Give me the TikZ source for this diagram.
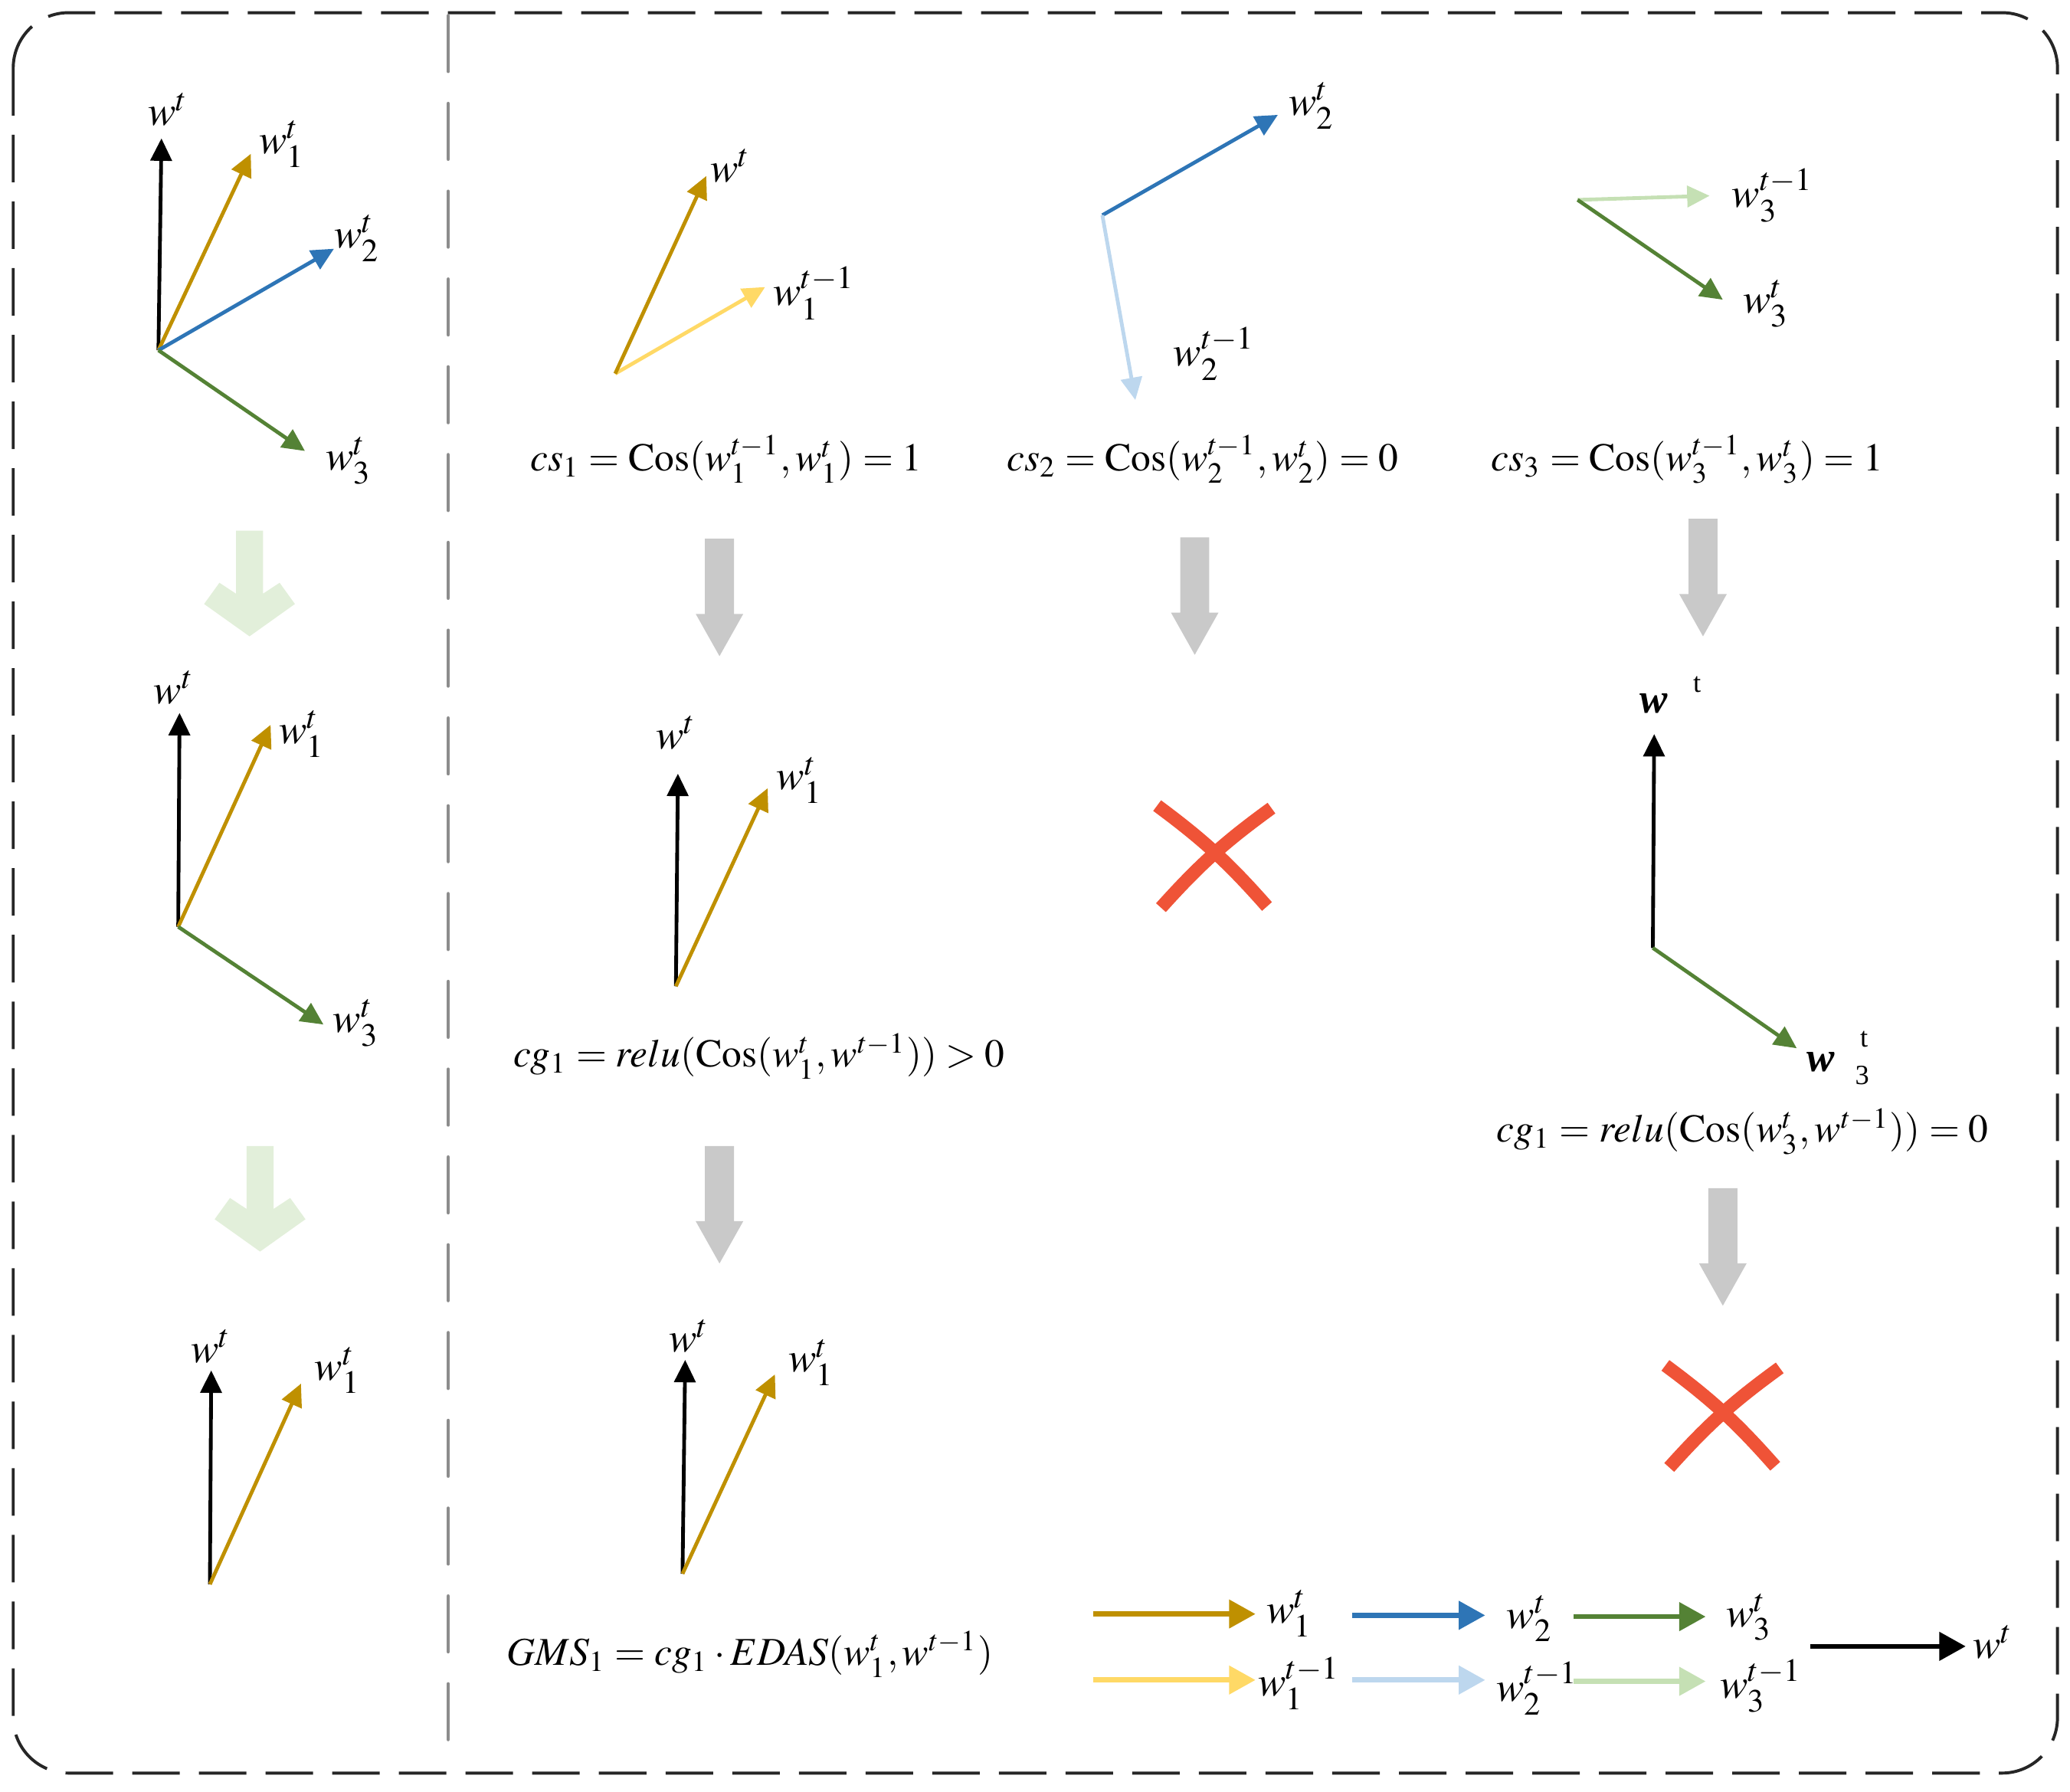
\documentclass[tikz,border=0pt]{standalone}
\usepackage{mathptmx}
\usepackage{fontspec}
\setmainfont{Liberation Serif}
\usetikzlibrary{arrows.meta}

\definecolor{wgold}{HTML}{BF9000}
\definecolor{wblue}{HTML}{2E75B6}
\definecolor{wgreen}{HTML}{548235}
\definecolor{wyellow}{HTML}{FFD966}
\definecolor{wlblue}{HTML}{BDD7EE}
\definecolor{wlgreen}{HTML}{C5E0B4}
\definecolor{stepgreen}{HTML}{E2EFDA}
\definecolor{stepgray}{HTML}{C9C9C9}
\definecolor{crossred}{HTML}{EF5337}
\definecolor{framegray}{HTML}{262626}
\definecolor{divgray}{HTML}{8C8C8C}

\tikzset{
  vec/.style={line width=0.8pt, -{Triangle[length=1.7mm, width=1.6mm]}},
  keyvec/.style={line width=1.1pt, -{Triangle[length=2mm, width=2.1mm]}},
  lbl/.style={font=\fontsize{9}{10}\selectfont},
  stepdown/.pic={\fill[stepgray] (-0.11,0) -- (0.11,0) -- (0.11,0.57) -- (0.18,0.57)
      -- (0,0.89) -- (-0.18,0.57) -- (-0.11,0.57) -- cycle;},
  fadedown/.pic={\fill[stepgreen] (-0.102,0) -- (0.102,0) -- (0.102,0.477) -- (0.228,0.394)
      -- (0.344,0.555) -- (0,0.80) -- (-0.344,0.555) -- (-0.228,0.394) -- (-0.102,0.477) -- cycle;},
  nocross/.pic={
    \draw[crossred, line width=1mm] (-0.435,-0.338) to[bend left=6] (0.397,0.426);
    \draw[crossred, line width=1mm] (-0.406,0.435) to[bend left=6] (0.431,-0.319);}
}

\begin{document}
\begin{tikzpicture}[x=1cm, y=-1cm, every node/.style={font=\fontsize{8.5}{10}\selectfont, inner sep=1pt}]
  \useasboundingbox (0,0) rectangle (15.68,13.57);

  % Frame and divider
  \draw[framegray, line width=0.65pt, rounded corners=0.42cm, dash pattern=on 0.36cm off 0.145cm]
    (0.10,0.096) rectangle (15.585,13.43);
  \draw[divgray, line width=0.8pt, line cap=round, dash pattern=on 0.42cm off 0.245cm]
    (3.395,0.12) -- (3.395,13.27);

  % Left panel: all gradients
  \coordinate (a0) at (1.20,2.653);
  \coordinate (aw) at (1.223,1.048);
  \coordinate (a1) at (1.90,1.165);
  \coordinate (a2) at (2.53,1.884);
  \coordinate (a3) at (2.31,3.416);
  \draw[vec, black] (a0) -- (aw);
  \draw[vec, wgold] (a0) -- (a1);
  \draw[vec, wblue] (a0) -- (a2);
  \draw[vec, wgreen] (a0) -- (a3);
  \node[lbl] (awl) at (1.275,0.83) {$w^t$};
  \node[lbl] (a1l) at (2.14,1.09) {$w_1^t$};
  \node[lbl] (a2l) at (2.706,1.806) {$w_2^t$};
  \node[lbl] (a3l) at (2.645,3.49) {$w_3^t$};

  \pic (fade1) at (1.89,4.02) {fadedown};

  \coordinate (b0) at (1.35,7.02);
  \coordinate (bw) at (1.36,5.40);
  \coordinate (b1) at (2.05,5.49);
  \coordinate (b3) at (2.45,7.76);
  \draw[vec, black] (b0) -- (bw);
  \draw[vec, wgold] (b0) -- (b1);
  \draw[vec, wgreen] (b0) -- (b3);
  \node[lbl] (bwl) at (1.32,5.21) {$w^t$};
  \node[lbl] (b1l) at (2.29,5.56) {$w_1^t$};
  \node[lbl] (b3l) at (2.70,7.75) {$w_3^t$};

  \pic (fade2) at (1.97,8.68) {fadedown};

  \coordinate (c0) at (1.59,12.00);
  \coordinate (cw) at (1.60,10.38);
  \coordinate (c1) at (2.28,10.48);
  \draw[vec, black] (c0) -- (cw);
  \draw[vec, wgold] (c0) -- (c1);
  \node[lbl] (cwl) at (1.60,10.20) {$w^t$};
  \node[lbl] (c1l) at (2.56,10.38) {$w_1^t$};

  % Client 1: kept
  \coordinate (d0) at (4.66,2.83);
  \coordinate (dw) at (5.35,1.333);
  \coordinate (d1) at (5.796,2.174);
  \draw[vec, wyellow] (d0) -- (d1);
  \draw[vec, wgold] (d0) -- (dw);
  \node[lbl] (dwl) at (5.535,1.255) {$w^t$};
  \node[lbl] (d1l) at (6.17,2.22) {$w_1^{t-1}$};
  \node (cs1) at (5.50,3.48) {$cs_1=\mathrm{Cos}(w_1^{t-1},w_1^{t})=1$};
  \pic (step1) at (5.45,4.08) {stepdown};

  \coordinate (e0) at (5.12,7.47);
  \coordinate (ew) at (5.135,5.86);
  \coordinate (e1) at (5.815,5.97);
  \draw[vec, black] (e0) -- (ew);
  \draw[vec, wgold] (e0) -- (e1);
  \node[lbl] (ewl) at (5.125,5.55) {$w^t$};
  \node[lbl] (e1l) at (6.06,5.91) {$w_1^t$};
  \node (cg1) at (5.75,8.00) {$cg_1=relu(\mathrm{Cos}(w_1^{t},w^{t-1}))>0$};
  \pic (step2) at (5.45,8.68) {stepdown};

  \coordinate (f0) at (5.17,11.92);
  \coordinate (fw) at (5.19,10.30);
  \coordinate (f1) at (5.87,10.41);
  \draw[vec, black] (f0) -- (fw);
  \draw[vec, wgold] (f0) -- (f1);
  \node[lbl] (fwl) at (5.22,10.12) {$w^t$};
  \node[lbl] (f1l) at (6.15,10.32) {$w_1^t$};
  \node (gms) at (5.68,12.53) {$GMS_1=cg_1\cdot EDAS(w_1^{t},w^{t-1})$};

  % Client 2: dropped
  \coordinate (g0) at (8.35,1.63);
  \coordinate (g2) at (9.68,0.87);
  \coordinate (g2p) at (8.60,3.03);
  \draw[vec, wblue] (g0) -- (g2);
  \draw[vec, wlblue] (g0) -- (g2p);
  \node[lbl] (g2l) at (9.94,0.80) {$w_2^t$};
  \node[lbl] (g2pl) at (9.20,2.68) {$w_2^{t-1}$};
  \node (cs2) at (9.11,3.48) {$cs_2=\mathrm{Cos}(w_2^{t-1},w_2^{t})=0$};
  \pic (step3) at (9.05,4.07) {stepdown};
  \pic (cross1) at (9.20,6.44) {nocross};

  % Client 3: gated out
  \coordinate (h0) at (11.95,1.514);
  \coordinate (h3p) at (12.95,1.483);
  \coordinate (h3) at (13.05,2.27);
  \draw[vec, wlgreen] (h0) -- (h3p);
  \draw[vec, wgreen] (h0) -- (h3);
  \node[lbl] (h3pl) at (13.43,1.48) {$w_3^{t-1}$};
  \node[lbl] (h3l) at (13.38,2.30) {$w_3^t$};
  \node (cs3) at (12.78,3.48) {$cs_3=\mathrm{Cos}(w_3^{t-1},w_3^{t})=1$};
  \pic (step4) at (12.90,3.93) {stepdown};

  \coordinate (k0) at (12.52,7.18);
  \coordinate (kw) at (12.53,5.56);
  \coordinate (k3) at (13.61,7.94);
  \draw[vec, black] (k0) -- (kw);
  \draw[vec, wgreen] (k0) -- (k3);
  \node[lbl] (kwl) at (12.525,5.33) {\textbf{\textit{w}}};
  \node[font=\fontsize{6}{7}\selectfont] (kwt) at (12.855,5.185) {t};
  \node[lbl] (k3l) at (13.795,8.045) {\textbf{\textit{w}}};
  \node[font=\fontsize{6}{7}\selectfont] (k3t) at (14.12,7.87) {t};
  \node[font=\fontsize{6}{7}\selectfont] (k3s) at (14.105,8.145) {3};
  \node (cg3) at (13.20,8.57) {$cg_1=relu(\mathrm{Cos}(w_3^{t},w^{t-1}))=0$};
  \pic (step5) at (13.05,9.00) {stepdown};
  \pic (cross2) at (13.05,10.68) {nocross};

  % Legend
  \coordinate (m1a) at (8.28,12.225);  \coordinate (m1b) at (9.51,12.225);
  \coordinate (m2a) at (10.24,12.235); \coordinate (m2b) at (11.25,12.235);
  \coordinate (m3a) at (11.92,12.245); \coordinate (m3b) at (12.92,12.245);
  \coordinate (n1a) at (8.28,12.725);  \coordinate (n1b) at (9.51,12.725);
  \coordinate (n2a) at (10.24,12.725); \coordinate (n2b) at (11.25,12.725);
  \coordinate (n3a) at (11.92,12.735); \coordinate (n3b) at (12.92,12.735);
  \coordinate (ma) at (13.71,12.47);   \coordinate (mb) at (14.89,12.47);
  \draw[keyvec, wgold] (m1a) -- (m1b);
  \draw[keyvec, wblue] (m2a) -- (m2b);
  \draw[keyvec, wgreen] (m3a) -- (m3b);
  \draw[keyvec, wyellow] (n1a) -- (n1b);
  \draw[keyvec, wlblue] (n2a) -- (n2b);
  \draw[keyvec, wlgreen] (n3a) -- (n3b);
  \draw[keyvec, black] (ma) -- (mb);
  \node[lbl] (m1l) at (9.77,12.22) {$w_1^t$};
  \node[lbl] (m2l) at (11.59,12.26) {$w_2^t$};
  \node[lbl] (m3l) at (13.25,12.25) {$w_3^t$};
  \node[lbl] (n1l) at (9.84,12.75) {$w_1^{t-1}$};
  \node[lbl] (n2l) at (11.645,12.79) {$w_2^{t-1}$};
  \node[lbl] (n3l) at (13.34,12.77) {$w_3^{t-1}$};
  \node[lbl] (mbl) at (15.10,12.44) {$w^t$};
\end{tikzpicture}
\end{document}
